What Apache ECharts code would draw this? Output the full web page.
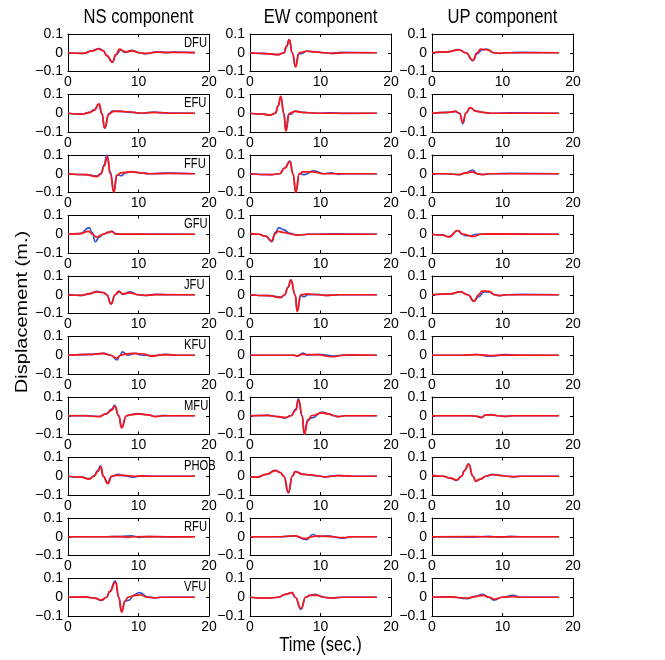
<!DOCTYPE html>
<html>
<head>
<meta charset="utf-8">
<title>Displacement waveforms</title>
<script src="https://cdn.jsdelivr.net/npm/echarts@6/dist/echarts.min.js"></script>
<style>
  html, body { margin: 0; padding: 0; background: #fff; }
  #chart { width: 665px; height: 660px; }
</style>
</head>
<body>
<div id="chart"></div>
<script>
// Station names (rows) and component titles (columns)
const stations = ['DFU', 'EFU', 'FFU', 'GFU', 'JFU', 'KFU', 'MFU', 'PHOB', 'RFU', 'VFU'];
const components = ['NS component', 'EW component', 'UP component'];
const xTicks = [0, 10, 20];
const yTicks = [-0.1, 0, 0.1];

// Waveforms as [time (s), displacement (m)]; obs = blue trace, syn = red trace
// --- NS ---
const dfuNsObs = [[0,0],[2.2,-0.003],[3.5,0.012],[4.4,0.022],[5,0.012],[5.5,-0.015],[6.3,-0.05],[6.8,-0.012],[7.5,0.015],[8.1,0.002],[9,0.013],[10.2,0],[10.9,-0.005],[12.7,0.005],[13.7,0.001],[15.2,0.004],[18,0.001]];
const dfuNsSyn = [[0,0],[2.2,-0.003],[3.5,0.01],[4.3,0.02],[5,0.01],[5.5,-0.015],[6.3,-0.05],[6.8,-0.01],[7.3,0.02],[7.9,0.008],[8.3,0.005],[9,0.01],[10.2,0],[10.9,-0.004],[12.7,0.003],[14.7,0.002],[18,0.001]];
const efuNsObs = [[0,0],[2,-0.005],[3,0.005],[3.7,0.018],[4.4,0.048],[4.8,0],[5.2,-0.08],[5.8,-0.002],[6.3,0.012],[7.5,0.01],[8.5,0.006],[10.5,0],[12,0.006],[13,0.003],[14.5,0.001],[18,0]];
const efuNsSyn = [[0,0],[2,-0.005],[3,0.003],[3.7,0.015],[4.4,0.05],[4.8,0],[5.2,-0.08],[5.8,-0.005],[6.5,0.01],[7.5,0.01],[8.5,0.008],[10.5,0],[12.5,0.005],[14.5,0],[18,0]];
const ffuNsObs = [[0,0],[2.5,-0.005],[4.1,-0.013],[4.7,0.002],[5.1,0.045],[5.5,0.1],[6,0.01],[6.5,-0.09],[7,-0.005],[7.6,-0.01],[8.1,0.005],[9,0.012],[10.5,0.004],[11.5,0],[14,0.003],[18,0]];
const ffuNsSyn = [[0,0],[2.5,-0.005],[4.1,-0.015],[4.7,0],[5.1,0.04],[5.6,0.09],[6,0],[6.5,-0.1],[6.9,-0.01],[7.5,0.005],[9,0.01],[10.5,0.004],[11.5,0],[14.5,0.002],[18,0]];
const gfuNsObs = [[0,0],[1.7,0.003],[3,0.035],[3.4,0.01],[3.9,-0.04],[4.4,-0.015],[5,0],[5.7,0.01],[6.2,0.015],[6.8,0.002],[8.2,0],[12.2,0.001],[18,0]];
const gfuNsSyn = [[0,0],[1.7,0.003],[2.9,0.015],[3.5,0],[4,-0.015],[5,0],[5.7,0.01],[6.2,0.015],[6.8,0],[8.2,0.001],[12.2,0],[18,0]];
const jfuNsObs = [[0,0],[2,-0.003],[3,0.006],[4.1,0.018],[5,0.012],[5.5,0],[6.1,-0.048],[6.7,0],[7.3,0.015],[7.8,0.002],[8.8,0.015],[10,0],[11,-0.004],[12.5,0.002],[14.5,0],[18,0]];
const jfuNsSyn = [[0,0],[2,-0.003],[3,0.005],[4,0.015],[5,0.012],[5.5,0],[6.1,-0.05],[6.7,0],[7.2,0.02],[7.8,0.005],[8.7,0.01],[10,0],[11,-0.003],[12.5,0.001],[18,0]];
const kfuNsObs = [[0,0],[3.5,0.005],[5,0.01],[6.1,0],[6.95,-0.025],[7.4,0],[7.7,0.018],[8.5,0],[9.5,0.01],[10.5,0],[12,-0.002],[14,0.005],[15.5,0],[18,0]];
const kfuNsSyn = [[0,0],[3.5,0.005],[5,0.01],[6,0],[6.9,-0.015],[7.5,0],[8,0.005],[9,0.01],[10.5,0.008],[12,-0.005],[13.5,0.003],[15.5,0],[18,0]];
const mfuNsObs = [[0,0],[2.4,0.001],[4.4,-0.004],[5.4,0.01],[6.2,0.035],[6.6,0.055],[7.2,0],[7.6,-0.06],[8.3,0],[8.9,0.006],[9.9,0.012],[11.4,0.004],[12.4,-0.004],[13.4,0.001],[14.4,0],[18,0]];
const mfuNsSyn = [[0,0],[2.4,0],[4.4,-0.005],[5.4,0.01],[6.2,0.03],[6.65,0.05],[7.2,0],[7.6,-0.065],[8.3,0],[8.9,0.005],[9.9,0.01],[11.4,0.005],[12.4,-0.005],[13.4,0],[18,0]];
const phobNsObs = [[0,0],[1.9,-0.005],[3,-0.013],[3.7,0.002],[4.2,0.03],[4.6,0.055],[5,0],[5.6,-0.035],[6.2,0],[7.1,0.01],[7.9,0.003],[9.2,-0.005],[10.4,0.002],[12.4,0],[18,0]];
const phobNsSyn = [[0,0],[1.9,-0.005],[3,-0.015],[3.7,0],[4.2,0.025],[4.67,0.05],[5,0],[5.66,-0.04],[6.2,0],[6.9,0.005],[7.9,0.005],[9.4,0],[10.4,0.002],[12.4,0],[18,0]];
const rfuNsObs = [[0,0],[5.5,0],[7.5,0.001],[9,0.005],[10,-0.003],[11.5,0.001],[13.5,-0.001],[15.5,0],[18,0]];
const rfuNsSyn = [[0,0],[5.5,0],[7.5,0.001],[8.5,-0.003],[9.5,0],[12.5,0.001],[15.5,-0.001],[18,0]];
const vfuNsObs = [[0,0],[2.3,0.002],[3.8,-0.005],[4.7,-0.017],[5.5,0],[5.9,0.03],[6.7,0.088],[7.2,0],[7.6,-0.075],[8.1,-0.02],[8.7,-0.015],[9.3,0.01],[10.1,0.025],[11.3,0.002],[12.3,-0.003],[13.3,0],[18,0]];
const vfuNsSyn = [[0,0],[2.3,0.002],[3.8,-0.005],[4.7,-0.015],[5.5,0],[5.9,0.03],[6.77,0.08],[7.2,0],[7.6,-0.08],[8.1,-0.02],[8.5,0],[9.6,0.01],[10.3,0.012],[11.3,0],[12.3,-0.003],[13.3,0],[18,0]];

// --- EW ---
const dfuEwObs = [[0,0],[1.5,-0.003],[3,-0.007],[4,-0.01],[4.8,0],[5.2,0.035],[5.56,0.07],[6,0],[6.46,-0.072],[6.9,-0.005],[7.3,-0.005],[8,0.008],[9,0.006],[10.5,0],[11.5,-0.003],[13,0.002],[18,0]];
const dfuEwSyn = [[0,0],[1.5,-0.003],[3,-0.007],[4,-0.01],[4.8,0],[5.2,0.035],[5.56,0.07],[6,0],[6.46,-0.075],[7,0],[8,0.008],[9,0.005],[10.5,0],[11.5,-0.003],[13.5,0],[18,0]];
const efuEwObs = [[0,0],[1.9,-0.005],[2.8,-0.01],[3.6,0],[4,0.04],[4.36,0.088],[4.8,0],[5.08,-0.09],[5.5,-0.005],[5.8,-0.005],[6.4,0.012],[7.4,0.005],[9.4,0],[11.4,0.002],[13.4,-0.001],[18,0]];
const efuEwSyn = [[0,0],[1.9,-0.005],[2.8,-0.01],[3.6,0],[4,0.04],[4.36,0.09],[4.8,0],[5.08,-0.095],[5.6,0],[6.4,0.01],[7.4,0.005],[9.4,0],[18,0]];
const ffuEwObs = [[0,0],[3,-0.005],[4.2,0],[4.9,0.03],[5.67,0.068],[6.1,0],[6.5,-0.095],[7,0],[7.7,-0.005],[9,0.015],[10.5,0],[11.5,0.005],[12.5,-0.003],[13.5,0],[18,0]];
const ffuEwSyn = [[0,0],[3,-0.005],[4.2,0],[4.9,0.03],[5.67,0.065],[6.1,0],[6.5,-0.1],[7,0],[7.5,0.01],[8.8,0.01],[10.5,0],[12.5,0],[18,0]];
const gfuEwObs = [[0,0.005],[1.2,0],[2.2,-0.01],[3.1,-0.04],[3.6,0.01],[4.1,0.035],[4.7,0.025],[5.7,0.005],[6.7,-0.005],[8.2,0],[12,0.002],[18,0]];
const gfuEwSyn = [[0,0.005],[1.2,0],[2.2,-0.01],[3.1,-0.035],[3.5,0],[4,0.015],[4.7,0.01],[6,0],[6.7,-0.005],[8.2,0],[18,0]];
const jfuEwObs = [[0,0],[2.6,-0.005],[4.4,-0.013],[4.9,0],[5.4,0.04],[5.8,0.078],[6.4,0],[6.7,-0.085],[7.2,-0.005],[7.7,-0.01],[8.2,0],[9.6,0.002],[10.6,-0.003],[12.6,0],[18,0]];
const jfuEwSyn = [[0,0],[2.6,-0.005],[4.4,-0.015],[4.9,0],[5.4,0.04],[5.8,0.08],[6.4,0],[6.7,-0.09],[7.2,0],[8.1,0.005],[9.6,0],[10.6,-0.003],[12.6,0],[18,0]];
const kfuEwObs = [[0,0],[6.3,0],[6.8,-0.005],[7.5,0.012],[8.1,0],[9.8,0.005],[11.8,-0.004],[13.3,0.001],[15.3,0],[18,0]];
const kfuEwSyn = [[0,0],[6.3,0],[6.6,-0.005],[7.3,0.005],[8.3,0.003],[9.3,0.003],[11.8,-0.008],[13.3,0],[14.3,0.002],[18,0]];
const mfuEwObs = [[0,0],[2.5,0.002],[4,-0.005],[5,-0.012],[5.8,0],[6.5,0.035],[6.85,0.09],[7.4,0],[7.7,-0.095],[8.2,-0.02],[8.9,-0.01],[10.2,0.02],[11,0.012],[12,0],[12.5,-0.005],[13.5,0],[18,0]];
const mfuEwSyn = [[0,0],[2.5,0.002],[4,-0.005],[5,-0.01],[5.8,0],[6.5,0.03],[6.9,0.085],[7.4,0],[7.7,-0.1],[8.2,-0.03],[8.7,0],[10.3,0.015],[11,0.01],[12,0],[12.5,-0.005],[13.5,0],[18,0]];
const phobEwObs = [[0,-0.005],[1,-0.005],[2.3,0.01],[3.6,0.032],[4.3,0.02],[4.8,0],[5.45,-0.09],[6,0],[6.4,0.025],[7.5,0.012],[8.5,0.006],[10,0],[10.5,-0.003],[12.5,0.004],[14.5,0],[18,0]];
const phobEwSyn = [[0,-0.005],[1,-0.005],[2.3,0.01],[3.6,0.03],[4.3,0.02],[4.8,0],[5.45,-0.085],[6,0],[6.4,0.025],[7.5,0.01],[8.5,0.008],[10,0],[10.5,-0.003],[12.5,0.003],[14.5,0],[18,0]];
const rfuEwObs = [[0,0],[4.3,0],[6.3,0.004],[8,-0.015],[8.9,0.012],[9.8,0],[10.8,0.005],[13.3,-0.008],[14.3,0],[18,0]];
const rfuEwSyn = [[0,0],[4.3,0],[6.3,0.005],[7.9,-0.01],[8.8,0],[9.6,0.005],[10.8,0.002],[13.3,-0.005],[14.3,0],[18,0]];
const vfuEwObs = [[0,0],[2.5,-0.005],[4,0],[5,0.015],[5.97,0.025],[6.4,0],[7.23,-0.065],[7.9,0],[8.5,0.01],[9.2,0.015],[10.5,0],[11.5,-0.004],[13,0],[18,0]];
const vfuEwSyn = [[0,0],[2.5,-0.005],[4,0],[5,0.015],[5.97,0.025],[6.4,0],[7.23,-0.06],[7.9,0],[8.5,0.01],[9.5,0.01],[10.5,0],[11.5,-0.005],[13,0],[18,0]];

// --- UP ---
const dfuUpObs = [[0,0],[2.1,0.005],[3.8,0.017],[4.8,0],[5.8,-0.042],[6.4,-0.005],[7.1,0.015],[7.7,0.02],[8.8,0],[9.6,-0.003],[10.6,0],[12.6,0.002],[18,0]];
const dfuUpSyn = [[0,0],[2.1,0.005],[3.8,0.015],[4.8,0],[5.8,-0.04],[6.4,0],[6.9,0.02],[7.9,0.015],[8.8,0],[9.6,-0.003],[10.6,0],[18,0]];
const efuUpObs = [[0,0],[2.3,0.005],[3.3,0.01],[3.9,0],[4.38,-0.055],[4.8,0],[5.4,0.028],[6.3,0.012],[7.3,0.004],[8.3,0],[11.3,0.002],[18,0]];
const efuUpSyn = [[0,0],[2.3,0.005],[3.3,0.01],[3.9,0],[4.38,-0.05],[4.8,0],[5.4,0.03],[6.3,0.01],[7.3,0.005],[8.3,0],[18,0]];
const ffuUpObs = [[0,0],[2.2,0],[3.85,-0.005],[4.8,0.005],[5.76,0.02],[6.4,0],[7.2,-0.004],[8.2,0],[11.2,0.002],[18,0]];
const ffuUpSyn = [[0,0],[2.2,0],[3.85,-0.005],[4.8,0.005],[5.7,0.01],[6.4,0],[7.2,-0.005],[8.2,0],[18,0]];
const gfuUpObs = [[0,0],[1.5,-0.005],[2.4,-0.013],[3.65,0.02],[4.3,0],[4.8,-0.008],[5.5,-0.008],[6.3,0],[8,0.002],[18,0]];
const gfuUpSyn = [[0,0],[1.5,-0.005],[2.4,-0.015],[3.65,0.02],[4.4,0],[5.86,-0.012],[7,0],[8,0.002],[18,0]];
const jfuUpObs = [[0,0],[2.6,0.005],[4,0.017],[5.1,0],[5.95,-0.033],[6.6,-0.01],[7.4,0.015],[8.1,0.015],[8.9,0],[9.6,-0.004],[10.6,0],[12.6,0.002],[18,0]];
const jfuUpSyn = [[0,0],[2.6,0.005],[4,0.015],[5.1,0],[5.95,-0.035],[6.6,0],[7.1,0.02],[8.1,0.018],[8.9,0],[9.6,-0.005],[10.6,0],[18,0]];
const kfuUpObs = [[0,0],[4.3,0],[6.3,0.004],[8.3,-0.005],[10.3,0.003],[12.3,0],[18,0]];
const kfuUpSyn = [[0,0],[4.3,0],[6.3,0.003],[8.3,-0.002],[10.3,0.001],[18,0]];
const mfuUpObs = [[0,0],[5.4,0],[6.4,-0.003],[7,-0.009],[7.6,0.004],[8.4,0.006],[9.4,0],[10.4,-0.004],[11.4,0],[18,0]];
const mfuUpSyn = [[0,0],[5.4,0],[6.4,-0.003],[7,-0.01],[7.6,0.005],[8.4,0.005],[9.4,0],[10.4,-0.003],[11.4,0],[18,0]];
const phobUpObs = [[0,0.005],[1.6,0],[2.6,-0.01],[3.5,-0.022],[4.2,0],[4.6,0.03],[5.2,0.066],[5.8,0],[6.2,-0.027],[6.9,-0.015],[7.6,0],[8.6,0.01],[9.6,0.005],[10.6,0],[11.6,-0.003],[12.6,0],[18,0]];
const phobUpSyn = [[0,0.005],[1.6,0],[2.6,-0.01],[3.5,-0.02],[4.2,0],[4.6,0.03],[5.2,0.065],[5.8,0],[6.2,-0.025],[6.9,-0.015],[7.6,0],[8.6,0.008],[9.6,0.005],[10.6,0],[11.6,-0.002],[12.6,0],[18,0]];
const rfuUpObs = [[0,0],[6,-0.002],[8,0.002],[10,-0.002],[11,0.002],[13,0],[18,0]];
const rfuUpSyn = [[0,0],[6,0.001],[9,-0.001],[12,0],[18,0]];
const vfuUpObs = [[0,0],[2.5,0.002],[5,-0.007],[6,0.003],[7.2,0.015],[8,0],[8.8,-0.015],[10,0],[11.5,0.01],[12.5,0],[18,0]];
const vfuUpSyn = [[0,0],[2.5,0.002],[5,-0.005],[6,0.003],[7.3,0.01],[8.1,0],[8.8,-0.01],[10,0],[11.5,0.003],[12.5,0],[18,0]];

// Panel table: rows = stations, columns = NS / EW / UP, each [obs, syn]
const panels = [
  [[dfuNsObs, dfuNsSyn], [dfuEwObs, dfuEwSyn], [dfuUpObs, dfuUpSyn]],
  [[efuNsObs, efuNsSyn], [efuEwObs, efuEwSyn], [efuUpObs, efuUpSyn]],
  [[ffuNsObs, ffuNsSyn], [ffuEwObs, ffuEwSyn], [ffuUpObs, ffuUpSyn]],
  [[gfuNsObs, gfuNsSyn], [gfuEwObs, gfuEwSyn], [gfuUpObs, gfuUpSyn]],
  [[jfuNsObs, jfuNsSyn], [jfuEwObs, jfuEwSyn], [jfuUpObs, jfuUpSyn]],
  [[kfuNsObs, kfuNsSyn], [kfuEwObs, kfuEwSyn], [kfuUpObs, kfuUpSyn]],
  [[mfuNsObs, mfuNsSyn], [mfuEwObs, mfuEwSyn], [mfuUpObs, mfuUpSyn]],
  [[phobNsObs, phobNsSyn], [phobEwObs, phobEwSyn], [phobUpObs, phobUpSyn]],
  [[rfuNsObs, rfuNsSyn], [rfuEwObs, rfuEwSyn], [rfuUpObs, rfuUpSyn]],
  [[vfuNsObs, vfuNsSyn], [vfuEwObs, vfuEwSyn], [vfuUpObs, vfuUpSyn]]
];

// Layout (pixels)
const colLeft = [68, 250, 432];
const panelW = 141;
const rowTop0 = 34;
const rowStep = 60.5;
const panelH = 37.5;

const FONT = '"Liberation Sans", Arial, Helvetica, sans-serif';
const OBS_COLOR = '#3556d0';
const SYN_COLOR = '#ff1414';
const TEXT_SQUEEZE = 0.83;   // narrow, Helvetica-like lettering

function fmtY(v) {
  const r = Math.round(v * 10) / 10;
  if (r === 0) return '0';
  return r < 0 ? '\u2212' + Math.abs(r) : String(r);
}

const grid = [], xAxis = [], yAxis = [], series = [], graphic = [];
const axisLineStyle = { show: true, onZero: false, lineStyle: { color: '#000', width: 1 } };
const tickStyle = { show: true, inside: true, length: 3, lineStyle: { color: '#000', width: 1 } };
const labelBase = { fontSize: 14, color: '#000', fontFamily: FONT };

stations.forEach((st, r) => {
  for (let c = 0; c < 3; c++) {
    const k = r * 3 + c;
    const top = rowTop0 + r * rowStep;
    grid.push({ left: colLeft[c], top: top, width: panelW, height: panelH, containLabel: false });
    // bottom + top x axes
    xAxis.push({
      gridIndex: k, type: 'value', min: xTicks[0], max: xTicks[xTicks.length - 1], interval: 10,
      position: 'bottom', axisLine: axisLineStyle, axisTick: tickStyle, splitLine: { show: false },
      axisLabel: Object.assign({ show: true, margin: 4 }, labelBase)
    });
    xAxis.push({
      gridIndex: k, type: 'value', min: xTicks[0], max: xTicks[xTicks.length - 1], interval: 10,
      position: 'top', axisLine: axisLineStyle, axisTick: tickStyle, splitLine: { show: false },
      axisLabel: { show: false }
    });
    // left + right y axes
    yAxis.push({
      gridIndex: k, type: 'value', min: yTicks[0], max: yTicks[yTicks.length - 1], interval: 0.1,
      position: 'left', axisLine: axisLineStyle, axisTick: tickStyle, splitLine: { show: false },
      axisLabel: Object.assign({ show: true, margin: 5, formatter: fmtY }, labelBase)
    });
    yAxis.push({
      gridIndex: k, type: 'value', min: yTicks[0], max: yTicks[yTicks.length - 1], interval: 0.1,
      position: 'right', axisLine: axisLineStyle, axisTick: tickStyle, splitLine: { show: false },
      axisLabel: { show: false }
    });
    const [obs, syn] = panels[r][c];
    const common = {
      type: 'line', xAxisIndex: 2 * k, yAxisIndex: 2 * k, showSymbol: false,
      smooth: 0.5, smoothMonotone: 'x', silent: true, clip: true
    };
    series.push(Object.assign({}, common, { data: obs, z: 2, lineStyle: { color: OBS_COLOR, width: 1.7 } }));
    series.push(Object.assign({}, common, { data: syn, z: 3, lineStyle: { color: SYN_COLOR, width: 1.7 } }));
  }
  // station name inside the NS panel
  graphic.push({
    type: 'text', x: 184, y: rowTop0 + r * rowStep + 9, scaleX: 0.8,
    style: { text: st, font: '14px ' + FONT, fill: '#000', textAlign: 'left', textVerticalAlign: 'middle' }, z: 10
  });
});

// column titles
components.forEach((t, c) => {
  graphic.push({
    type: 'text', x: colLeft[c] + panelW / 2, y: 17, scaleX: TEXT_SQUEEZE,
    style: { text: t, font: '20px ' + FONT, fill: '#000', textAlign: 'center', textVerticalAlign: 'middle' }
  });
});
// axis names
graphic.push({
  type: 'text', x: 22, y: 312, rotation: Math.PI / 2, scaleY: TEXT_SQUEEZE,
  style: { text: 'Displacement (m.)', font: '20px ' + FONT, fill: '#000', textAlign: 'center', textVerticalAlign: 'middle' }
});
graphic.push({
  type: 'text', x: colLeft[1] + panelW / 2, y: 645, scaleX: TEXT_SQUEEZE,
  style: { text: 'Time (sec.)', font: '20px ' + FONT, fill: '#000', textAlign: 'center', textVerticalAlign: 'middle' }
});

const chart = echarts.init(document.getElementById('chart'), null, { renderer: 'canvas' });
chart.setOption({
  animation: false,
  backgroundColor: '#fff',
  grid, xAxis, yAxis, series, graphic
});
</script>
</body>
</html>
